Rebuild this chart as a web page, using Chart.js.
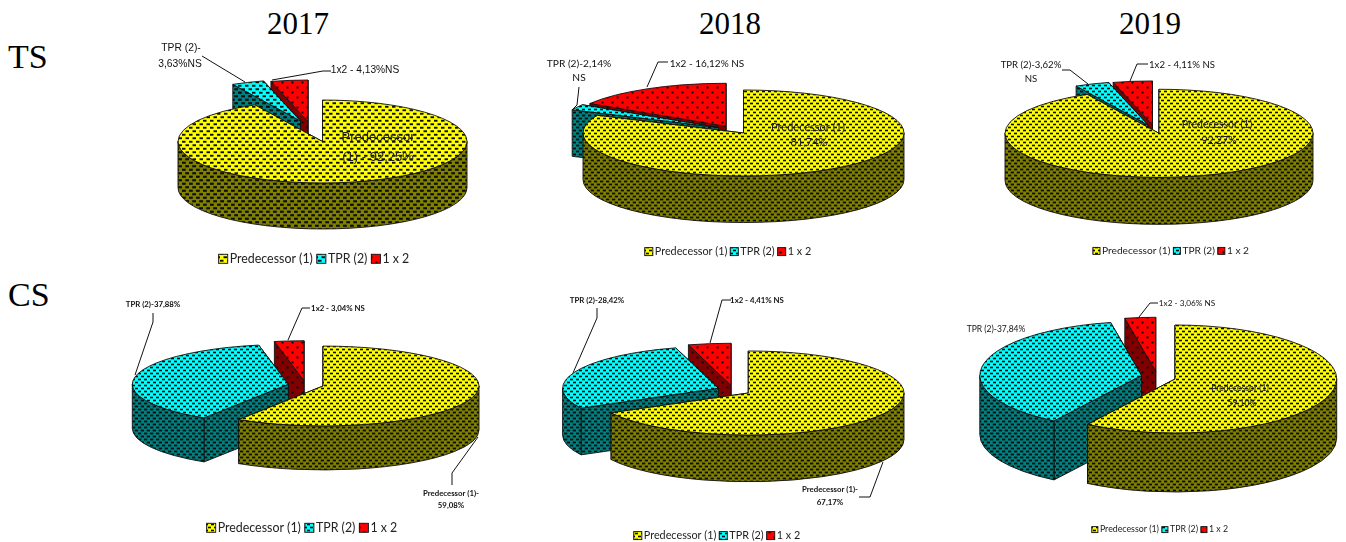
<!DOCTYPE html>
<html><head><meta charset="utf-8">
<script src="https://cdn.jsdelivr.net/npm/chart.js@4"></script>
<style>
html,body{margin:0;padding:0;background:#fff;width:1346px;height:542px;overflow:hidden}
canvas{position:absolute;filter:blur(.4px)}
.t{position:absolute;font-family:"Liberation Serif";color:#000;line-height:1;white-space:nowrap}
</style></head><body>
<script>
const categories=['Predecessor (1)','TPR (2)','1 x 2'];
const ts2017=[92.25,3.63,4.13];
const ts2018=[81.74,2.14,16.12];
const ts2019=[92.27,3.62,4.11];
const cs2017=[59.08,37.88,3.04];
const cs2018=[67.17,28.42,4.41];
const cs2019=[59.10,37.84,3.06];
const columnTitles=[['2017',298],['2018',730],['2019',1150]];
const rowTitles=[['TS',58],['CS',296]];

const SANS='"Liberation Sans"',LATO='Lato';
// pie placement (page px), slice explosion offsets, legend placement and annotations per panel
const panels=[
 {values:ts2017,cx:322.5,cy:141.5,r:144.5,s:.287,d:46,off:[[0,0],[-22,-20.5],[-14.5,-20]],lx:314,ly:258,top:0,lf:12.4,lp:4,dot:7,
  notes:[
   {font:'10.3px '+SANS,lines:[['TPR (2)-',181,48],['3,63%NS',180,64]],path:[[202,56],[245,82]]},
   {font:'10.2px '+SANS,lines:[['1x2 - 4,13%NS',365,70]],path:[[331,71],[323,71],[272,80]]},
   {font:'13px '+SANS,color:'#222',lines:[['Predecessor',378,137],['(1) - 92,25%',378,157]]}]},
 {values:ts2018,cx:743.5,cy:133,r:160.5,s:.268,d:46.5,off:[[0,0],[-25,-5.5],[-17.5,-6.7]],lx:728,ly:252,top:0,lf:10.8,lp:3,dot:6,
  notes:[
   {font:'10.2px '+LATO,lines:[['TPR (2)-2,14%',579,64],['NS',579,78]],path:[[579,87],[577,105],[572,110]]},
   {font:'10px '+LATO,lines:[['1x2 - 16,12% NS',707,64]],path:[[668,62],[658,62],[647,87]]},
   {font:'11px '+LATO,color:'#222',lines:[['Predecessor (1)',808,127],['81,74%',809,142]]}]},
 {values:ts2019,cx:1159,cy:133.3,r:154,s:.286,d:47,off:[[0,0],[-11,-8.3],[-6.5,-8.3]],lx:1171,ly:251,top:0,lf:10.2,lp:3,dot:6,
  notes:[
   {font:'9.6px '+LATO,lines:[['TPR (2)-3,62%',1031,65],['NS',1031,79]],path:[[1062,70],[1070,70],[1088,84]]},
   {font:'9.6px '+LATO,lines:[['1x2 - 4,11% NS',1182,65]],path:[[1148,64],[1137,64],[1130,81]]},
   {font:'10.5px '+LATO,color:'#222',lines:[['Predecessor (1)',1217,125],['92,27%',1219,141]]}]},
 {values:cs2017,cx:323,cy:386,r:156,s:.256,d:44,off:[[0,0],[-34.7,-1.7],[-19,-5.3]],lx:302,ly:527,top:280,lf:12.4,lp:4,dot:6,
  notes:[
   {font:'bold 7.8px '+LATO,lines:[['TPR (2)-37,88%',153,304]],path:[[153,313],[153,322],[135,375]]},
   {font:'bold 7.8px '+LATO,lines:[['1x2 - 3,04% NS',338,308]],path:[[310,308],[302,308],[288,340]]},
   {font:'bold 7.8px '+LATO,lines:[['Predecessor (1)-',451,493],['59,08%',451,505]],path:[[452,485],[452,473],[478,437]]}]},
 {values:cs2018,cx:748.3,cy:393,r:155.7,s:.27,d:46.7,off:[[0,0],[-30,-4.7],[-17.3,-7.7]],lx:717,ly:536,top:280,lf:10.8,lp:3,dot:6,
  notes:[
   {font:'bold 7.8px '+LATO,lines:[['TPR (2)-28,42%',597,300]],path:[[597,308],[597,318],[573,373]]},
   {font:'bold 7.8px '+LATO,lines:[['1x2 - 4,41% NS',757,300]],path:[[731,300],[722,300],[710,343]]},
   {font:'bold 7.8px '+LATO,lines:[['Predecessor (1)-',830,489],['67,17%',830,502]],path:[[859,497],[870,497],[883,462]]}]},
 {values:cs2019,cx:1175,cy:379,r:161.7,s:.334,d:59,off:[[0,0],[-33.5,-3.5],[-19.3,-7.7]],lx:1160,ly:530,top:280,lf:8.8,lp:3,dot:6,
  notes:[
   {font:'8.2px '+LATO,lines:[['1x2 - 3,06% NS',1187,303]],path:[[1158,303],[1150,303],[1139,317]]},
   {font:'8.5px '+LATO,lines:[['TPR (2)-37,84%',996,329]]},
   {font:'8.6px '+LATO,color:'#222',lines:[['Predecessor (1)',1240,388],['59,10%',1242,403]]}]}
];
const topColors=['#ffff00','#00ffff','#ff0000'];
const wallColors=['#808000','#008080','#800000'];
const dotColor='#0c0c0c';

function makeTile(bg,period,sparse,fw,fh){
  const w=sparse?10:period,h=w;
  const c=document.createElement('canvas');c.width=w;c.height=h;
  const x=c.getContext('2d');x.fillStyle=bg;x.fillRect(0,0,w,h);
  x.fillStyle=dotColor;
  const dw=sparse?2:period*fw,dh=sparse?2:period*fh;
  [[w*.25,h*.25],[w*.75,h*.75]].forEach(p=>x.fillRect(p[0]-dw/2,p[1]-dh/2,dw,dh));
  return c;
}
function patterns(colors,period,fw,fh){
  const ctx=document.createElement('canvas').getContext('2d');
  return colors.map((col,i)=>ctx.createPattern(makeTile(col,period,i===2,fw,fh),'repeat'));
}

const pie3d={
  id:'pie3d',
  beforeDatasetsDraw(chart){
    const o=chart.options.plugins.pie3d,p=o.panel,ctx=chart.ctx,left=o.left,top=o.top;
    const arcs=chart.getDatasetMeta(0).data;
    ctx.save();ctx.translate(-left,-top);
    ctx.lineWidth=.9;ctx.strokeStyle='#111';ctx.lineJoin='round';
    [2,1,0].forEach(i=>{
      const a=arcs[i],a0=a.startAngle,a1=a.endAngle,r=a.outerRadius,ry=r*p.s;
      const ax=p.cx+p.off[i][0],ay=p.cy+p.off[i][1],d=p.d;
      const rim=t=>[ax+r*Math.cos(t),ay+ry*Math.sin(t)];
      ctx.fillStyle=o.walls[i];
      [a1,a0].forEach(t=>{
        const q=rim(t);
        ctx.beginPath();ctx.moveTo(ax,ay);ctx.lineTo(q[0],q[1]);ctx.lineTo(q[0],q[1]+d);ctx.lineTo(ax,ay+d);ctx.closePath();
        ctx.fill();ctx.stroke();
      });
      const f0=Math.max(a0,0),f1=Math.min(a1,Math.PI);
      if(f1>f0){
        ctx.beginPath();
        ctx.ellipse(ax,ay,r,ry,0,f0,f1);
        ctx.ellipse(ax,ay+d,r,ry,0,f1,f0,true);
        ctx.closePath();ctx.fill();ctx.stroke();
      }
      ctx.fillStyle=chart.data.datasets[0].backgroundColor[i];
      ctx.beginPath();ctx.moveTo(ax,ay);ctx.ellipse(ax,ay,r,ry,0,a0,a1);ctx.closePath();
      ctx.fill();ctx.stroke();
    });
    p.notes.forEach(n=>{
      if(n.path){
        ctx.beginPath();n.path.forEach((q,k)=>k?ctx.lineTo(q[0],q[1]):ctx.moveTo(q[0],q[1]));
        ctx.strokeStyle='#111';ctx.lineWidth=1;ctx.stroke();
      }
      ctx.font=n.font;ctx.fillStyle=n.color||'#111';ctx.textAlign='center';ctx.textBaseline='middle';
      n.lines.forEach(l=>ctx.fillText(l[0],l[1],l[2]));
    });
    ctx.restore();
    return false;
  },
  afterDraw(chart){
    const o=chart.options.plugins.pie3d,ctx=chart.ctx,b=o.box;
    chart.legend.legendHitBoxes.forEach((h,i)=>{
      const y=h.top+(h.height-b)/2;
      ctx.fillStyle='#fff';ctx.fillRect(h.left,y-1,b,b+2);
      ctx.fillStyle=chart.data.datasets[0].backgroundColor[i];
      ctx.fillRect(h.left,y,b,b);
      ctx.lineWidth=.9;ctx.strokeStyle='#111';ctx.strokeRect(h.left,y,b,b);
    });
  }
};

columnTitles.forEach(t=>{const e=document.createElement('div');e.className='t';e.textContent=t[0];
  e.style.cssText='left:'+(t[1]-50)+'px;width:100px;text-align:center;top:8px;font-size:31px';document.body.appendChild(e);});
rowTitles.forEach(t=>{const e=document.createElement('div');e.className='t';e.textContent=t[0];
  e.style.cssText='left:8px;top:'+(t[1]-18)+'px;font-size:34px';document.body.appendChild(e);});

const W=440;
panels.forEach(p=>{
  const H=Math.round(p.ly+p.lf/2+p.lp+7-p.top),left=p.lx-W/2;
  const box=Math.round(p.lf*.72);
  const cv=document.createElement('canvas');cv.width=W;cv.height=H;
  cv.style.left=left+'px';cv.style.top=p.top+'px';cv.style.width=W+'px';cv.style.height=H+'px';
  document.body.appendChild(cv);
  new Chart(cv,{
    type:'pie',
    data:{labels:categories,datasets:[{data:p.values,backgroundColor:patterns(topColors,p.dot,.5,.27),borderColor:'#111',borderWidth:.8,radius:p.r}]},
    options:{responsive:false,animation:false,
      layout:{padding:0},
      plugins:{
        tooltip:{enabled:false},
        pie3d:{panel:p,left:left,top:p.top,box:box,walls:patterns(wallColors,p.dot,.58,.3)},
        legend:{display:true,position:'bottom',labels:{boxWidth:box+2-p.lf/2,boxHeight:box,padding:p.lp,color:'#222',font:{family:LATO,size:p.lf}}}
      }},
    plugins:[pie3d]
  });
});
</script>
</body></html>
